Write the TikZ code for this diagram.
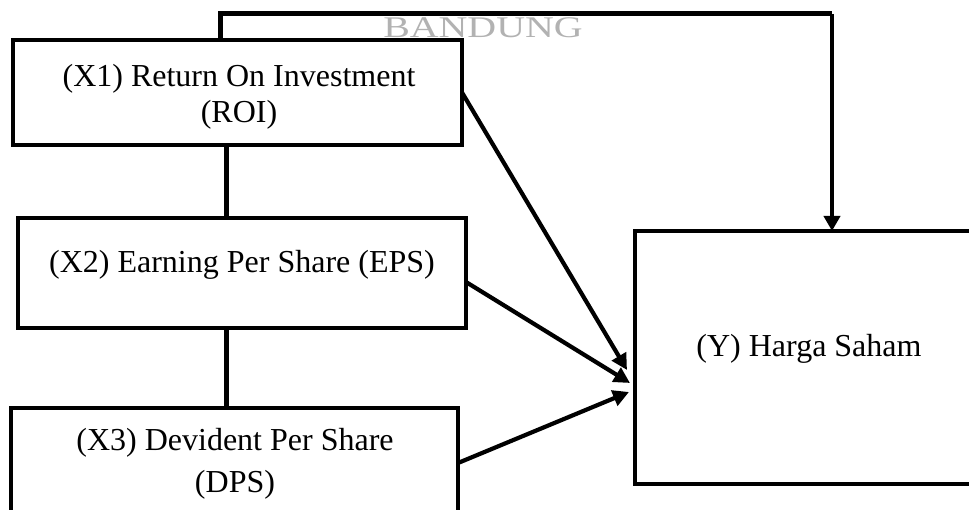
\documentclass[tikz,border=0pt]{standalone}
\usepackage{fontspec}
\setmainfont{Liberation Serif}
\usetikzlibrary{arrows.meta}
\begin{document}
\begin{tikzpicture}[x=1pt,y=-1pt,
  box/.style={draw, line width=3.5pt, inner sep=0pt, outer sep=0pt},
  lbl/.style={anchor=base, inner sep=0pt, font=\fontsize{32}{38}\selectfont},
  conn/.style={line width=5pt},
  arr/.style={line width=4.2pt, -{Triangle[length=16pt,width=16pt]}}]
\useasboundingbox (0,0) rectangle (969,510);
\clip (0,0) rectangle (969,510);
% watermark
\node[anchor=base, inner sep=0pt, text=black!30, xscale=1.33,
      font=\fontsize{30}{30}\selectfont] (wm) at (483,38) {BANDUNG};
% boxes
\node[box, minimum width=449pt, minimum height=105pt] (b1) at (237.5,92.5) {};
\node[box, minimum width=448pt, minimum height=110pt] (b2) at (242,273) {};
\node[box, minimum width=447pt, minimum height=110pt] (b3) at (234.5,463) {};
\node[box, minimum width=346pt, minimum height=253pt] (y) at (808,357.5) {};
% labels
\node[lbl] (t1a) at (239,87) {(X1) Return On Investment};
\node[lbl] (t1b) at (239,123) {(ROI)};
\node[lbl] (t2) at (242,273) {(X2) Earning Per Share (EPS)};
\node[lbl] (t3a) at (235,450) {(X3) Devident Per Share};
\node[lbl] (t3b) at (235,492) {(DPS)};
\node[lbl] (ty) at (809,357) {(Y) Harga Saham};
% helper coordinates
\coordinate (cl) at (220,0);
\coordinate (cx) at (226,0);
\coordinate (topl) at (220,14);
\coordinate (topr) at (832,14);
\coordinate (yin) at (832,0);
\coordinate (tip1) at (627,370);
\coordinate (tip2) at (630,383);
\coordinate (tip3) at (629,392);
% connectors
\draw[conn] (b1.north -| cl) -- (topl) -- (topr);
\draw[line width=4pt, -{Triangle[length=15pt,width=16pt]}] (topr) -- (y.north -| yin);
\draw[conn] (b1.south -| cx) -- (b2.north -| cx);
\draw[conn] (b2.south -| cx) -- (b3.north -| cx);
\draw[arr] (b1.east) -- (tip1);
\draw[arr] ([yshift=-9pt]b2.east) -- (tip2);
\draw[arr] (b3.east) -- (tip3);
\end{tikzpicture}
\end{document}
